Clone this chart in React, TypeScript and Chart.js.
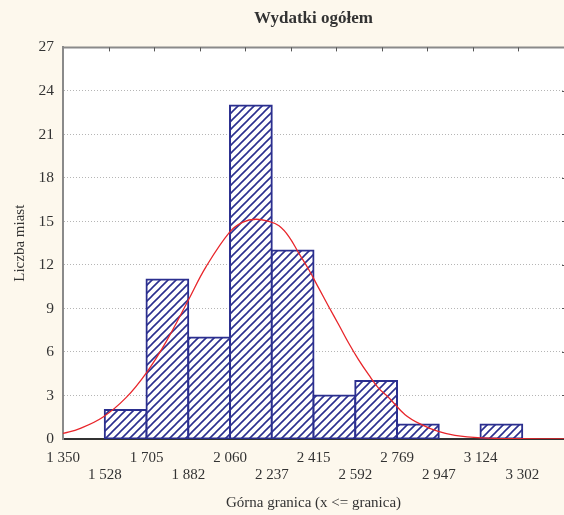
import React, { useEffect, useRef } from 'react';
import { Chart, registerables } from 'chart.js';

Chart.register(...registerables);

// ---- data ----
const binEdges = [1350, 1527.5, 1704.9, 1882.4, 2059.8, 2237.3, 2414.7, 2592.2, 2769.6, 2947.1, 3124.5, 3302.0, 3479.4];
const tickValues = [1350, 1527.5, 1704.9, 1882.4, 2059.8, 2237.3, 2414.7, 2592.2, 2769.6, 2947.1, 3124.5, 3302.0];
const tickLabels = ['1 350', '1 528', '1 705', '1 882', '2 060', '2 237', '2 415', '2 592', '2 769', '2 947', '3 124', '3 302'];
const counts = [0, 2, 11, 7, 23, 13, 3, 4, 1, 0, 1, 0];
const yTicks = [0, 3, 6, 9, 12, 15, 18, 21, 24, 27];
const curveX = [1350, 1421, 1519, 1618, 1706, 1788, 1882, 1957, 2060, 2115, 2169, 2225, 2268, 2310, 2352, 2395, 2437, 2479, 2522, 2564, 2606, 2649, 2691, 2733, 2804, 2874, 2945, 3016, 3128, 3284, 3479];
const curveY = [0.38, 0.72, 1.5, 2.85, 4.6, 6.7, 9.55, 11.85, 14.3, 14.95, 15.15, 15.0, 14.7, 13.96, 12.82, 11.67, 10.4, 9.14, 7.88, 6.62, 5.47, 4.43, 3.51, 2.88, 1.68, 0.99, 0.52, 0.25, 0.08, 0.02, 0.0];

const TITLE = 'Wydatki ogółem';
const X_TITLE = 'Górna granica (x <= granica)';
const Y_TITLE = 'Liczba miast';

const NAVY = '#2b2f8f';
const RED = '#e8262b';
const CREAM = '#fdf8ed';
const FONT = "'Liberation Serif', 'Times New Roman', serif";

function makeHatch(): CanvasPattern | string {
  const s = 8;
  const c = document.createElement('canvas');
  c.width = s;
  c.height = s;
  const g = c.getContext('2d');
  if (!g) return '#fff';
  g.fillStyle = '#ffffff';
  g.fillRect(0, 0, s, s);
  g.strokeStyle = NAVY;
  g.lineWidth = 1.6;
  g.beginPath();
  g.moveTo(-1, s + 1);
  g.lineTo(s + 1, -1);
  g.moveTo(-1, 1);
  g.lineTo(1, -1);
  g.moveTo(s - 1, s + 1);
  g.lineTo(s + 1, s - 1);
  g.stroke();
  return g.createPattern(c, 'repeat') || '#fff';
}

const framePlugin = {
  id: 'frame',
  beforeDraw(chart: any) {
    const { ctx, chartArea, width, height } = chart;
    ctx.save();
    ctx.fillStyle = CREAM;
    ctx.fillRect(0, 0, width, height);
    ctx.fillStyle = '#ffffff';
    ctx.fillRect(chartArea.left, chartArea.top, chartArea.right - chartArea.left, chartArea.bottom - chartArea.top);
    ctx.restore();
  },
  afterDraw(chart: any) {
    const { ctx, chartArea } = chart;
    const { left, right, top } = chartArea;
    ctx.save();
    ctx.strokeStyle = '#8a8a8a';
    ctx.lineWidth = 2;
    ctx.beginPath();
    ctx.moveTo(left - 1, top);
    ctx.lineTo(right, top);
    ctx.stroke();
    ctx.strokeStyle = '#555';
    ctx.lineWidth = 1;
    const n = 11;
    for (let i = 1; i <= n; i++) {
      const x = Math.round(left + ((right - left) * i) / n) + 0.5;
      ctx.beginPath();
      ctx.moveTo(x, top);
      ctx.lineTo(x, top + 4);
      ctx.stroke();
    }
    const yScale = chart.scales.y;
    for (const v of yTicks) {
      if (v === 0 || v === 27) continue;
      const y = Math.round(yScale.getPixelForValue(v)) + 0.5;
      ctx.beginPath();
      ctx.moveTo(right - 2, y);
      ctx.lineTo(right, y);
      ctx.stroke();
    }
    ctx.restore();
  },
};

export default function App() {
  const ref = useRef<HTMLCanvasElement | null>(null);

  useEffect(() => {
    const canvas = ref.current;
    if (!canvas) return;
    const hatch = makeHatch();

    const barData = counts.map((c, i) => ({
      x: (binEdges[i] + binEdges[i + 1]) / 2,
      y: c === 0 ? null : c,
    }));
    const lineData = curveX.map((x, i) => ({ x, y: curveY[i] }));

    const chart = new Chart(canvas, {
      type: 'bar',
      data: {
        datasets: [
          {
            type: 'line',
            data: lineData,
            borderColor: RED,
            borderWidth: 1.3,
            pointRadius: 0,
            tension: 0.4,
            fill: false,
            order: 0,
          } as any,
          {
            type: 'bar',
            data: barData as any,
            backgroundColor: hatch as any,
            borderColor: NAVY,
            borderWidth: 2,
            borderSkipped: false,
            inflateAmount: 1,
            barPercentage: 1,
            categoryPercentage: 1,
            order: 1,
          } as any,
        ],
      },
      options: {
        animation: false,
        responsive: false,
        maintainAspectRatio: false,
        devicePixelRatio: 1,
        layout: { padding: { left: 0, right: 0, top: 0, bottom: 0 } },
        plugins: {
          legend: { display: false },
          tooltip: { enabled: false },
          title: {
            display: true,
            text: TITLE,
            fullSize: false,
            color: '#333333',
            font: { family: FONT, size: 17, weight: 'bold', lineHeight: 1.2 },
            padding: { top: 8, bottom: 19 },
          },
        },
        scales: {
          x: {
            type: 'linear',
            min: binEdges[0],
            max: binEdges[binEdges.length - 1],
            offset: false,
            afterBuildTicks: (scale: any) => {
              scale.ticks = tickValues.map((v) => ({ value: v }));
            },
            afterFit: (scale: any) => {
              scale.height = 76;
            },
            ticks: {
              autoSkip: false,
              maxRotation: 0,
              minRotation: 0,
              padding: 10,
              color: '#333333',
              font: { family: FONT, size: 15, lineHeight: 1.17 },
              callback: (_v: any, i: number) => (i % 2 === 0 ? tickLabels[i] : ['', tickLabels[i]]),
            },
            grid: { display: false, drawTicks: false },
            border: { display: true, color: '#333333', width: 2 },
            title: {
              display: true,
              text: X_TITLE,
              color: '#333333',
              font: { family: FONT, size: 15, lineHeight: 1.2 },
              padding: { top: 0, bottom: 3 },
            },
          },
          y: {
            type: 'linear',
            min: 0,
            max: 27,
            afterBuildTicks: (scale: any) => {
              scale.ticks = yTicks.map((v) => ({ value: v }));
            },
            afterFit: (scale: any) => {
              scale.width = 63;
            },
            ticks: {
              padding: 9,
              color: '#333333',
              font: { family: FONT, size: 15.5 },
              callback: (v: any) => String(v),
            },
            grid: {
              drawTicks: false,
              lineWidth: 1,
              color: (ctx: any) => (ctx.tick && (ctx.tick.value === 0 || ctx.tick.value === 27) ? 'rgba(0,0,0,0)' : '#b5b5b5'),
            },
            border: { display: true, color: '#8a8a8a', width: 2, dash: [1, 2] },
            title: {
              display: true,
              text: Y_TITLE,
              color: '#333333',
              font: { family: FONT, size: 15, lineHeight: 1.2 },
              padding: { top: 11, bottom: 0 },
            },
          },
        },
      } as any,
      plugins: [framePlugin],
    });

    return () => {
      chart.destroy();
    };
  }, []);

  return (
    <div style={{ position: 'absolute', left: 0, top: 0, width: 564, height: 515, background: CREAM }}>
      <canvas ref={ref} width={564} height={515} style={{ display: 'block', width: 564, height: 515 }} />
    </div>
  );
}
